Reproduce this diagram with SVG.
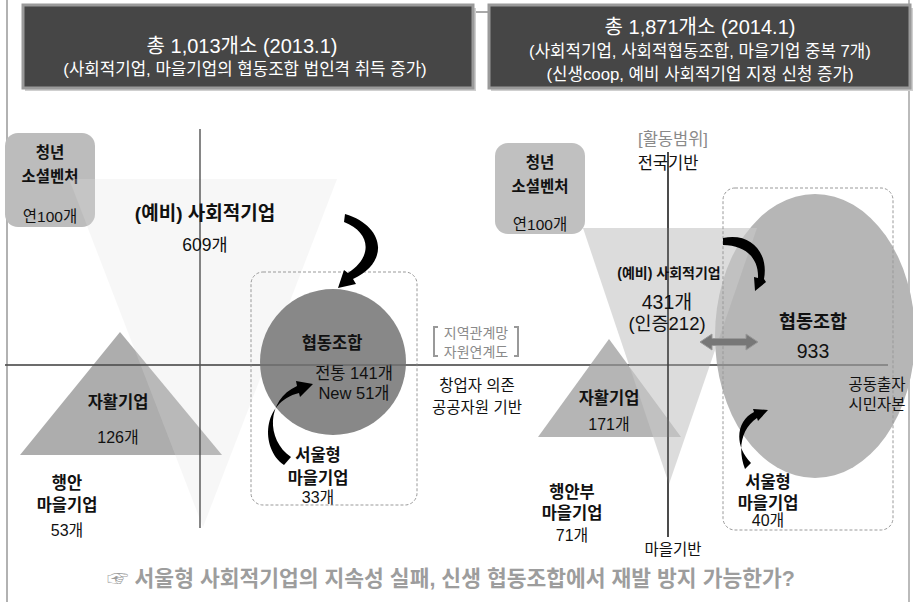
<svg xmlns="http://www.w3.org/2000/svg" width="913" height="602" viewBox="0 0 913 602">
<style>
text{font-family:"Liberation Sans","Noto Sans CJK KR",sans-serif;text-anchor:middle;fill:#111}
.t1{fill:#fff;font-size:20px}
.t2{fill:#fff;font-size:16.8px}
.b{font-weight:bold}
.g{fill:#8a8a8a}
.axis{stroke:#444;stroke-width:1.3}
.dash{fill:none;stroke:#999;stroke-width:1;stroke-dasharray:3 2}
.arr{fill:#000}
</style>
<rect width="913" height="602" fill="#fff"/>
<line x1="7" y1="0" x2="7" y2="602" stroke="#999" stroke-width="1.5"/>
<line x1="909" y1="0" x2="909" y2="602" stroke="#bbb" stroke-width="2"/>
<line x1="473" y1="12" x2="488" y2="12" stroke="#555" stroke-width="1"/>

<g id="title-2013">
<rect x="25" y="8" width="451" height="83" fill="#cfcfcf"/>
<rect x="23" y="5" width="450" height="83" fill="#464646" stroke="#9a9a9a" stroke-width="3"/>
<text class="t1" x="242" y="53">총 1,013개소 (2013.1)</text>
<text class="t2" x="245" y="75">(사회적기업, 마을기업의 협동조합 법인격 취득 증가)</text>
</g>
<g id="title-2014">
<rect x="491" y="8" width="422" height="83" fill="#cfcfcf"/>
<rect x="489" y="5" width="421" height="83" fill="#464646" stroke="#9a9a9a" stroke-width="3"/>
<text class="t1" x="700" y="34">총  1,871개소 (2014.1)</text>
<text class="t2" x="700" y="57">(사회적기업, 사회적협동조합, 마을기업 중복 7개)</text>
<text class="t2" x="700" y="80">(신생coop, 예비 사회적기업 지정 신청 증가)</text>
</g>

<!-- LEFT PANEL shapes -->
<g id="youth-left">
<rect x="5" y="133" width="90" height="94" rx="13" fill="#bcbcbc"/>
<text class="b" x="50" y="158" font-size="15.5">청년</text>
<text class="b" x="50" y="182" font-size="15.5">소셜벤처</text>
<text x="50" y="222" font-size="15.5">연100개</text>
</g>
<g id="selfsupport-left">
<polygon points="120,332 20,455 222,455" fill="#adadad"/>
</g>
<g id="social-left">
<polygon points="69,179 337,179 203,527" fill="#e0e0e0" fill-opacity="0.25"/>
</g>
<line class="axis" x1="200" y1="129" x2="200" y2="528"/>
<line x1="5" y1="365" x2="888" y2="365" stroke="#555" stroke-width="1.3"/>
<line x1="668" y1="152" x2="668" y2="537" stroke="#333" stroke-width="1.3"/>

<g id="coop-left">
<circle cx="333" cy="362" r="73" fill="#888"/>
<text class="b" x="332" y="349" font-size="16.5">협동조합</text>
<text x="354" y="379" font-size="16.5">전통 141개</text>
<text x="354" y="399" font-size="16.5">New 51개</text>
</g>
<rect class="dash" x="251" y="272" width="166" height="233" rx="12"/>

<!-- RIGHT PANEL shapes -->
<g id="youth-right">
<rect x="495" y="143" width="90" height="91" rx="13" fill="#c0c0c0"/>
<text class="b" x="540" y="168" font-size="15.5">청년</text>
<text class="b" x="540" y="192" font-size="15.5">소셜벤처</text>
<text x="540" y="230" font-size="15.5">연100개</text>
</g>
<g id="selfsupport-right">
<polygon points="609,339 538,437 681,437" fill="#b5b5b5"/>
</g>
<g id="coop-right">
<ellipse cx="815" cy="336" rx="100" ry="142" fill="#b6b6b6"/>
</g>
<g id="social-right">
<polygon points="583,228 757,228 669,484" fill="#c8c8c8" fill-opacity="0.63"/>
</g>
<line x1="5" y1="365" x2="888" y2="365" stroke="#555" stroke-width="1.3" stroke-opacity="0.6"/>
<line x1="668" y1="152" x2="668" y2="537" stroke="#333" stroke-width="1.3"/>
<rect class="dash" x="723" y="188" width="170" height="342" rx="12"/>

<g id="connectors">
<path class="arr" d="M345,214 C385,226 390,262 353,279 L356,284 L338,288 L344,270 L348,273 C374,256 370,232 344,222 Z"/>
<path class="arr" d="M291,457 C266,440 266,400 297,386 L296,381 L313,384 L300,397 L299,393 C262,402 260,448 284,465 Z"/>
<path class="arr" d="M723,238 C750,232 769,252 764,279 L766,282 L755,291 L754,277 L758,278 C759,258 745,245 723,245 Z"/>
<path class="arr" d="M751,463 C733,445 737,420 754,412 L753,409 L768,410 L758,421 L757,418 C742,428 737,448 745,469 Z"/>
<polygon points="700,342 712,334 712,338.5 746,338.5 746,334 758,342 746,350 746,345.5 712,345.5 712,350" fill="#777" stroke="#999" stroke-width="1"/>
</g>

<!-- LEFT PANEL texts -->
<text class="b" x="205" y="220" font-size="19">(예비) 사회적기업</text>
<text x="205" y="251" font-size="17.5">609개</text>
<text class="b" x="118" y="408" font-size="16.5">자활기업</text>
<text x="118" y="443" font-size="16">126개</text>
<g id="seoul-village-left">
<text class="b" x="318" y="461" font-size="16.5">서울형</text>
<text class="b" x="318" y="484" font-size="16.5">마을기업</text>
<text x="318" y="503" font-size="16">33개</text>
</g>
<g id="mois-village-left">
<text class="b" x="67" y="489" font-size="16.5">행안</text>
<text class="b" x="67" y="511" font-size="16.5">마을기업</text>
<text x="67" y="536" font-size="16">53개</text>
</g>
<g id="network-label">
<path d="M438,327 H434 V356 H438" fill="none" stroke="#999" stroke-width="2"/>
<path d="M514,327 H518 V356 H514" fill="none" stroke="#999" stroke-width="2"/>
<text class="g" x="476" y="338" font-size="14">지역관계망</text>
<text class="g" x="476" y="357" font-size="14">자원연계도</text>
</g>
<text x="477" y="391" font-size="15.5">창업자 의존</text>
<text x="477" y="413" font-size="15.5">공공자원 기반</text>

<!-- RIGHT PANEL texts -->
<text class="g" x="673" y="145" font-size="16.5">[활동범위]</text>
<text x="668" y="169" font-size="16.5">전국기반</text>
<text class="b" x="669" y="278" font-size="14">(예비) 사회적기업</text>
<text x="667" y="309" font-size="19.5">431개</text>
<text x="667" y="330" font-size="18.5">(인증212)</text>
<text class="b" x="813" y="328" font-size="18.5">협동조합</text>
<text x="813" y="358" font-size="19.5">933</text>
<text x="877" y="390" font-size="15.5">공동출자</text>
<text x="877" y="410" font-size="15.5">시민자본</text>
<text class="b" x="609" y="404" font-size="16.5">자활기업</text>
<text x="609" y="430" font-size="16">171개</text>
<g id="mois-village-right">
<text class="b" x="572" y="498" font-size="16.5">행안부</text>
<text class="b" x="572" y="519" font-size="16.5">마을기업</text>
<text x="572" y="541" font-size="16">71개</text>
</g>
<text x="673" y="555" font-size="15.5">마을기반</text>
<g id="seoul-village-right">
<text class="b" x="768" y="488" font-size="16.5">서울형</text>
<text class="b" x="768" y="509" font-size="16.5">마을기업</text>
<text x="768" y="526" font-size="16">40개</text>
</g>

<text class="b" x="451" y="586" font-size="21.5" style="fill:#9d9d9d">☞ 서울형 사회적기업의 지속성 실패, 신생 협동조합에서 재발 방지 가능한가?</text>
</svg>
